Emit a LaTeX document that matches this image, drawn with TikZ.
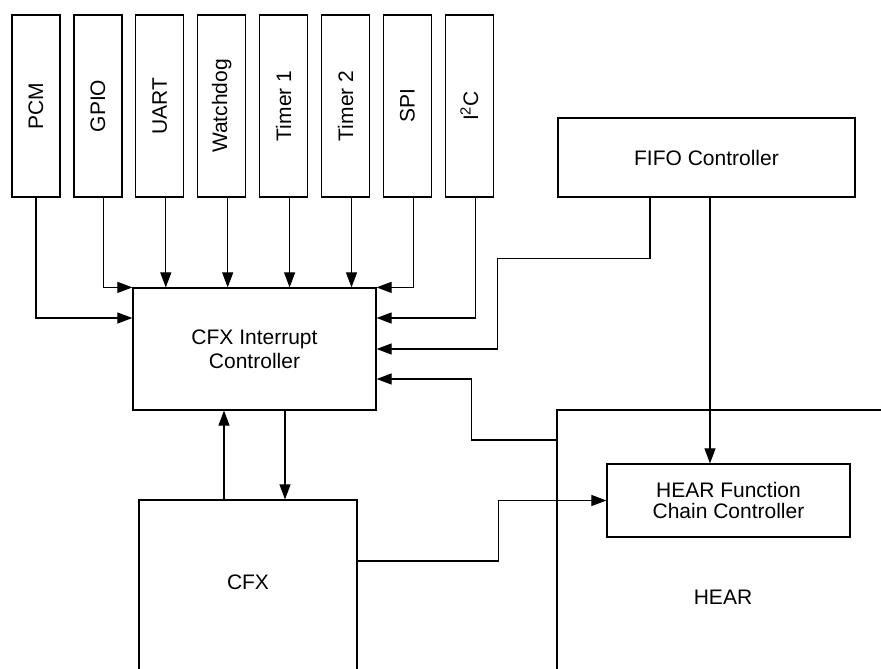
\documentclass[tikz,border=0pt]{standalone}
\usepackage{fontspec}
\setmainfont{Liberation Sans}
\usepackage{graphicx}
\usetikzlibrary{arrows.meta, positioning}

\begin{document}
\begin{tikzpicture}[
    x=1pt, y=-1pt,
    font=\fontsize{21}{24}\selectfont,
    periph/.style={rectangle, draw, line width=1.2pt, minimum width=48pt, minimum height=182pt, inner sep=0pt},
    block/.style={rectangle, draw, line width=1.2pt, align=center, inner sep=0pt},
    arrow/.style={-{Triangle[length=15pt, width=11pt]}, line width=1.1pt}
]
    \useasboundingbox (0,0) rectangle (881,669);
    \clip (0,0) rectangle (881,669);

    \node[periph] (pcm) at (36,106) {\rotatebox{90}{PCM}};
    \node[periph, right=12.7pt of pcm] (gpio) {\rotatebox{90}{GPIO}};
    \node[periph, right=12.7pt of gpio] (uart) {\rotatebox{90}{UART}};
    \node[periph, right=12.7pt of uart] (wdog) {\rotatebox{90}{Watchdog}};
    \node[periph, right=12.7pt of wdog] (tmr1) {\rotatebox{90}{Timer 1}};
    \node[periph, right=12.7pt of tmr1] (tmr2) {\rotatebox{90}{Timer 2}};
    \node[periph, right=12.7pt of tmr2] (spi) {\rotatebox{90}{SPI}};
    \node[periph, right=12.7pt of spi] (i2c) {\rotatebox{90}{I\textsuperscript{2}C}};

    \node[block, minimum width=243pt, minimum height=122pt] (cic) at (254.5,349) {CFX Interrupt\\Controller};
    \node[block, minimum width=297pt, minimum height=79pt] (fifo) at (706.5,157.5) {FIFO Controller};
    \node[block, minimum width=218pt, minimum height=240pt, label={[yshift=38pt]center:CFX}] (cfx) at (248,620) {};
    \node[block, minimum width=332pt, minimum height=374pt] (hear) at (723,597) {HEAR};
    \node[block, minimum width=243pt, minimum height=73pt, font=\fontsize{21}{21}\selectfont] (fcc) at (728.5,500.5) {HEAR Function\\Chain Controller};

    \coordinate (uart-out) at ([xshift=6pt]uart.south);
    \coordinate (wdog-out) at ([xshift=6pt]wdog.south);
    \coordinate (tmr1-out) at ([xshift=6pt]tmr1.south);
    \coordinate (tmr2-out) at ([xshift=6pt]tmr2.south);
    \coordinate (fifo-irq) at ([xshift=-56.5pt]fifo.south);
    \coordinate (fifo-out) at ([xshift=3.5pt]fifo.south);
    \coordinate (cfx-up) at ([xshift=-24pt]cfx.north);
    \coordinate (cic-down) at ([xshift=30.5pt]cic.south);

    \draw[arrow] (pcm.south) |- ([yshift=31pt]cic.west);
    \draw[arrow] ([xshift=6pt]gpio.south) |- (cic.north west);
    \draw[arrow] (uart-out) -- (uart-out |- cic.north);
    \draw[arrow] (wdog-out) -- (wdog-out |- cic.north);
    \draw[arrow] (tmr1-out) -- (tmr1-out |- cic.north);
    \draw[arrow] (tmr2-out) -- (tmr2-out |- cic.north);
    \draw[arrow] ([xshift=6pt]spi.south) |- (cic.north east);
    \draw[arrow] ([xshift=6pt]i2c.south) |- ([yshift=31pt]cic.east);
    \draw[arrow] (fifo-irq) -- ++(0,61) -| ([xshift=121pt]cic.east) -- (cic.east);
    \draw[arrow] ([yshift=157pt]hear.west) -| ([xshift=95pt, yshift=-30pt]cic.east) -- ([yshift=-30pt]cic.east);
    \draw[arrow] (fifo-out) -- (fifo-out |- fcc.north);
    \draw[arrow] (cfx-up) -- (cfx-up |- cic.south);
    \draw[arrow] (cic-down) -- (cic-down |- cfx.north);
    \draw[arrow] ([yshift=59pt]cfx.east) -- ++(141,0) |- (fcc.west);
\end{tikzpicture}
\end{document}
